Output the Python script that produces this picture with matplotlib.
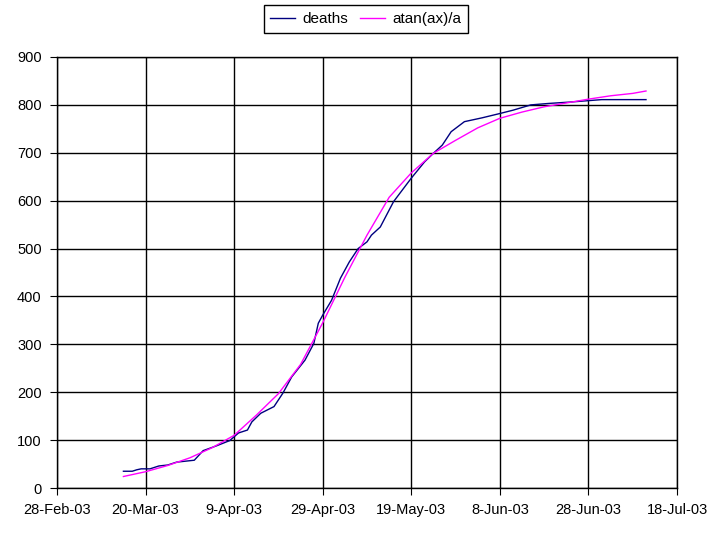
import datetime as dt
import matplotlib
matplotlib.use("Agg")
import matplotlib.pyplot as plt
import matplotlib.dates as mdates
from matplotlib.ticker import FuncFormatter, MultipleLocator

# days counted from 28-Feb-03
start = dt.date(2003, 2, 28)

death_days = [15, 17, 18, 19, 21, 23, 25, 27, 29, 31, 32, 33, 36, 39, 41, 43, 44, 46,
              49, 51, 53, 56, 58, 59, 60, 62, 64, 66, 68, 70, 71, 73, 76, 80, 83, 85, 87, 89,
              92, 96, 100, 103, 107, 111, 116, 123, 133]
deaths = [35, 35, 38, 40, 40, 46, 48, 54, 56, 58, 68, 78, 88, 99, 115, 121, 138, 156,
          170, 198, 232, 267, 302, 344, 361, 392, 438, 472, 500, 514, 528, 545, 598, 647, 681, 699, 716, 744,
          765, 773, 782, 789, 800, 803, 806, 811, 811]

fit_days = [15, 20, 25, 30, 35, 40, 45, 50, 55, 58, 60, 65, 70, 75, 80, 85, 90, 95, 100, 105,
            110, 115, 120, 125, 130, 133]
fit_vals = [24, 34, 47, 63, 84, 110, 152, 197, 258, 310, 345, 440, 528, 607, 658, 699, 726, 752,
            772, 785, 796, 804, 812, 819, 824, 829]

tick_days = [0, 20, 40, 60, 80, 100, 120, 140]

death_dates = [start + dt.timedelta(days=d) for d in death_days]
fit_dates = [start + dt.timedelta(days=d) for d in fit_days]
tick_dates = [start + dt.timedelta(days=d) for d in tick_days]

plt.rcParams['font.family'] = ['Liberation Sans', 'DejaVu Sans']

fig = plt.figure(figsize=(7.28, 5.36), dpi=100)
ax = fig.add_axes([57/728, 1 - 488/536, 620/728, 431/536])

ax.plot(death_dates, deaths, color="#000080", linewidth=1.0, label="deaths")
ax.plot(fit_dates, fit_vals, color="#ff00ff", linewidth=1.0, label="atan(ax)/a")

ax.set_xlim(tick_dates[0], tick_dates[-1])
ax.set_ylim(0, 900)
ax.set_xticks(tick_dates)
ax.yaxis.set_major_locator(MultipleLocator(100))


def fmt_date(x, pos):
    d = mdates.num2date(x)
    return str(d.day) + "-" + d.strftime("%b-%y")


ax.xaxis.set_major_formatter(FuncFormatter(fmt_date))
ax.grid(True, color="black", linewidth=1.0)
ax.set_axisbelow(True)
for s in ax.spines.values():
    s.set_color("black")
    s.set_linewidth(1.0)
ax.tick_params(axis="both", labelsize=10.5, direction="out", length=5, color="black", pad=6)

fig.legend(loc="center", bbox_to_anchor=(366/728, 1 - 19/536), ncol=2, fontsize=11,
           frameon=True, fancybox=False, edgecolor="black", framealpha=1,
           handlelength=1.6, handletextpad=0.5, columnspacing=0.8, borderpad=0.45)

plt.savefig("out.png", dpi=100)
